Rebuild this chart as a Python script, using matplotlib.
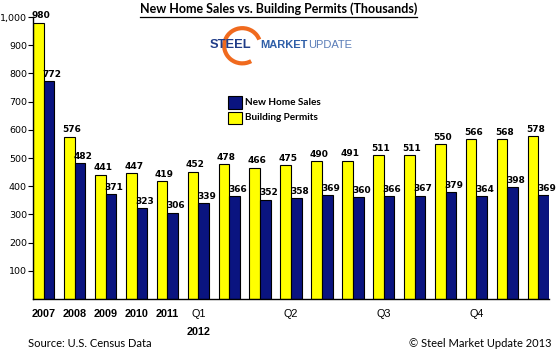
import numpy as np
import matplotlib
matplotlib.use('Agg')
import matplotlib.pyplot as plt
from matplotlib.patches import Arc, Rectangle

# 資料
categories = ['2007', '2008', '2009', '2010', '2011', 'Q1', '', '', 'Q2',
              '', '', 'Q3', '', '', 'Q4', '', '']
permits = [980, 576, 441, 447, 419, 452, 478, 466, 475, 490, 491, 511, 511, 550, 566, 568, 578]
sales = [772, 482, 371, 323, 306, 339, 366, 352, 358, 369, 360, 366, 367, 379, 364, 398, 369]

yellow = '#FFFF00'
navy = '#0A1480'

fig = plt.figure(figsize=(5.57, 3.52), dpi=100)
ax = fig.add_axes([0.0595, 0.1506, 0.926, 0.801])

x = np.arange(len(categories))
w = 0.345
ax.bar(x - w / 2, permits, width=w, color=yellow, edgecolor='black', linewidth=0.8)
ax.bar(x + w / 2, sales, width=w, color=navy, edgecolor='black', linewidth=0.8)

# 數值標籤
for i in range(len(x)):
    ax.text(x[i] - w / 2 + 0.08, permits[i] + 8, str(permits[i]), ha='center', va='bottom',
            fontsize=6.5, fontweight='bold', family='DejaVu Sans')
    ax.text(x[i] + w / 2 + 0.1, sales[i] + 8, str(sales[i]), ha='center', va='bottom',
            fontsize=6.5, fontweight='bold', family='DejaVu Sans')

ax.set_xlim(-w, len(x) - 1 + w)
ax.set_ylim(0, 1000)
ax.set_yticks(range(100, 1001, 100))
ax.set_yticklabels([f'{v:,}' for v in range(100, 1001, 100)], fontsize=6.8, family='DejaVu Sans')
ax.tick_params(axis='y', length=3.5, width=0.8, pad=1)
ax.set_xticks(x)
ax.set_xticklabels(categories, fontsize=7.8, family='Liberation Sans')
ax.tick_params(axis='x', length=0, pad=7)
for lbl in ax.get_xticklabels():
    if lbl.get_text().startswith('20'):
        lbl.set_fontweight('bold')
ax.text(5, -0.1, '2012', transform=ax.get_xaxis_transform(), ha='center', va='top',
        fontsize=7.8, fontweight='bold', family='Liberation Sans')

for s in ['top', 'right']:
    ax.spines[s].set_visible(False)
ax.spines['left'].set_linewidth(1)
ax.spines['bottom'].set_linewidth(1)

# 標題
fig.text(0.5, 0.975, 'New Home Sales vs. Building Permits (Thousands)', ha='center', va='center',
         fontsize=9, fontweight='bold', family='Lato')
fig.add_artist(plt.Line2D([0.252, 0.748], [0.951, 0.951], color='black', linewidth=0.9))

# Logo
fig.add_artist(Arc((0.435, 0.87), 0.065, 0.1, theta1=30, theta2=290, color='#F06A1E', linewidth=3,
                   transform=fig.transFigure))
fig.text(0.377, 0.872, 'STEEL', ha='left', va='center', fontsize=9.3, fontweight='bold',
         color='#1F3C88', family='Liberation Sans')
fig.text(0.467, 0.872, 'MARKET', ha='left', va='center', fontsize=8, fontweight='bold',
         color='#2F5FA8', family='Liberation Sans')
fig.text(0.553, 0.872, 'UPDATE', ha='left', va='center', fontsize=8,
         color='#5A7DB8', family='Liberation Sans')

# 圖例
fig.add_artist(Rectangle((0.41, 0.69), 0.025, 0.036, facecolor=navy, edgecolor='black',
                         linewidth=0.8, transform=fig.transFigure))
fig.add_artist(Rectangle((0.41, 0.647), 0.025, 0.036, facecolor=yellow, edgecolor='black',
                         linewidth=0.8, transform=fig.transFigure))
fig.text(0.44, 0.708, 'New Home Sales', ha='left', va='center', fontsize=7.2, fontweight='bold', family='Lato')
fig.text(0.44, 0.665, 'Building Permits', ha='left', va='center', fontsize=7.2, fontweight='bold', family='Lato')

# 註腳
fig.text(0.05, 0.025, 'Source: U.S. Census Data', ha='left', va='center', fontsize=8, family='Lato')
fig.text(0.99, 0.025, '© Steel Market Update 2013', ha='right', va='center', fontsize=8, family='Lato')

fig.savefig('out.png', dpi=100)
